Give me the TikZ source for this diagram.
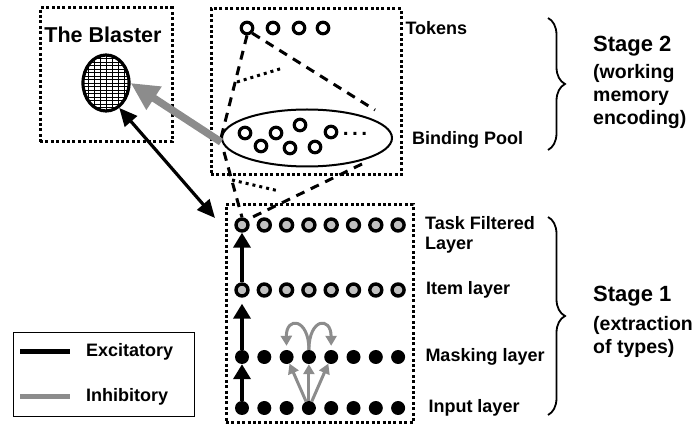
\documentclass[tikz,border=0pt]{standalone}
\usepackage{fontspec}
\setmainfont{Liberation Sans}
\usepackage{xcolor}
\definecolor{inhibGray}{HTML}{8C8C8C}
\definecolor{unitGray}{HTML}{C0C0C0}
\usetikzlibrary{positioning,calc,arrows.meta,shapes.geometric,decorations.pathreplacing}
\tikzset{%
  regionBox/.style={%
    rectangle,
    draw,
    line width=3pt,
    dash pattern=on 3pt off 2.4pt,
    inner sep=0pt
  },
  tokenUnit/.style={%
    circle,
    draw,
    line width=3.2pt,
    minimum size=11.5pt,
    inner sep=0pt
  },
  typeUnit/.style={%
    circle,
    draw,
    fill=unitGray,
    line width=3.4pt,
    minimum size=12pt,
    inner sep=0pt
  },
  inputUnit/.style={%
    circle,
    fill=black,
    minimum size=14pt,
    inner sep=0pt
  },
  layerLabel/.style={%
    font=\bfseries\fontsize{18}{20}\selectfont,
    inner sep=0pt,
    anchor=west,
    align=left
  },
  stageLabel/.style={%
    font=\bfseries\fontsize{19.5}{23}\selectfont,
    inner sep=0pt,
    anchor=north west,
    align=left
  },
  excArrow/.style={%
    -{Triangle[length=15pt,width=17pt]},
    line width=4pt
  },
  inhArrow/.style={%
    -{Triangle[length=10pt,width=11pt]},
    line width=3pt,
    color=inhibGray
  },
  coneLine/.style={%
    line width=3pt,
    dash pattern=on 9pt off 7pt
  },
  hiddenLine/.style={%
    line width=3pt,
    dash pattern=on 3pt off 4pt
  },
  stageBrace/.style={%
    decorate,
    decoration={brace,amplitude=17pt},
    line width=1.8pt
  }
}

\begin{document}
\begin{tikzpicture}[x=1pt,y=-1pt]
  \useasboundingbox (0,0) rectangle (694,427);

  % boxes
  \node[regionBox, minimum width=132pt, minimum height=134pt] (blasterBox) at (106,75) {};
  \node[regionBox, minimum width=190pt, minimum height=166pt] (poolBox) at (306,92) {};
  \node[regionBox, minimum width=187pt, minimum height=218pt] (layerBox) at (319.5,314) {};

  % the blaster
  \node[font=\bfseries\fontsize{21.5}{24}\selectfont, inner sep=0pt] (blasterText) at (103,35) {The Blaster};
  \node[ellipse, draw, line width=3.2pt, minimum width=46pt, minimum height=56pt, inner sep=0pt,
    path picture={%
      \foreach \k in {-28,-24.5,...,28}
        \draw[line width=0.7pt] ($(path picture bounding box.center)+(-30,\k)$) -- ++(60,0);
      \foreach \k in {-18,-12,...,18}
        \draw[line width=0.7pt] ($(path picture bounding box.center)+(\k,-30)$) -- ++(0,60);
    }] (blaster) at (106,83) {};

  % tokens and binding pool
  \foreach \x [count=\i] in {247,273,299,323}
    \node[tokenUnit] (tok\i) at (\x,28) {};
  \node[ellipse, draw, line width=2pt, minimum width=170pt, minimum height=57pt, inner sep=0pt] (pool) at (307,138) {};
  \foreach \x/\y [count=\i] in {245/133,261/146,276/133,300/125,290/148,315/147,331/132}
    \node[tokenUnit] (bind\i) at (\x,\y) {};
  \node[font=\bfseries\fontsize{21}{24}\selectfont, inner sep=0pt, anchor=base] (poolDots) at (355,136) {.\hspace{3.5pt}.\hspace{3.5pt}.};

  \node[layerLabel, right=75pt of tok4] (tokLabel) {Tokens};
  \node[layerLabel] (poolLabel) at (412,140) {Binding Pool};

  % cones
  \coordinate (coneTopR) at (375,110);
  \coordinate (backA) at (237,82);
  \coordinate (backB) at (283,68);
  \draw[coneLine] (tok1.south) -- (pool.west);
  \draw[coneLine] (tok1.south east) -- (coneTopR);
  \draw[hiddenLine] (backA) -- (backB);

  \coordinate (coneLowL) at (224,152);
  \coordinate (coneLowR) at (362,164);
  \coordinate (backC) at (232,180);
  \coordinate (backD) at (279,191);

  % layers
  \foreach \i in {1,...,8} {
    \node[typeUnit] (task\i) at ({242+22.3*(\i-1)},225) {};
    \node[typeUnit] (item\i) at ({242+22.3*(\i-1)},290) {};
    \node[inputUnit] (mask\i) at ({242+22.3*(\i-1)},357) {};
    \node[inputUnit] (inp\i) at ({242+22.3*(\i-1)},408) {};
  }
  \draw[coneLine] (coneLowL) -- (task1.north);
  \draw[coneLine] (coneLowR) -- ([xshift=8pt,yshift=-1pt]task1.north);
  \draw[hiddenLine] (backC) -- (backD);

  \node[layerLabel, anchor=north west] (taskLabel) at (425,216) {Task Filtered\\Layer};
  \node[layerLabel, right=20pt of item8] (itemLabel) {Item layer};
  \node[layerLabel, right=20pt of mask8] (maskLabel) {Masking layer};
  \node[layerLabel, right=23pt of inp8] (inpLabel) {Input layer};

  % excitatory
  \draw[excArrow] (item1) -- (task1);
  \draw[excArrow, shorten >=6pt] (mask1) -- (item1);
  \draw[excArrow] (inp1) -- (mask1);

  % inhibitory
  \draw[inhArrow] (inp4) -- (mask3);
  \draw[inhArrow] (inp4) -- (mask4);
  \draw[inhArrow] (inp4) -- (mask5);
  \draw[inhArrow, shorten >=4pt] (mask4.north) .. controls (309,318) and (286,316) .. (mask3.north);
  \draw[inhArrow, shorten >=4pt] (mask4.north) .. controls (309,318) and (331,316) .. (mask5.north);

  % links to the blaster
  \coordinate (blastLink) at (215,218);
  \draw[-{Triangle[length=28pt,width=26pt]}, line width=7.5pt, color=inhibGray] ([yshift=-4pt]pool.west) -- (blaster.east);
  \draw[{Triangle[length=18pt,width=16pt]}-{Triangle[length=18pt,width=16pt]}, line width=3.2pt] (blaster.-62) -- (blastLink);

  % stages
  \draw[stageBrace] (548,18) -- (548,150);
  \draw[stageBrace] (548,217) -- (548,415);
  \node[stageLabel, font=\bfseries\fontsize{22}{24}\selectfont] (stageTwo) at (593,36) {Stage 2};
  \node[stageLabel, below=8pt of stageTwo.south west, anchor=north west] (stageTwoSub) {(working\\memory\\encoding)};
  \node[stageLabel, font=\bfseries\fontsize{22}{24}\selectfont] (stageOne) at (593,286) {Stage 1};
  \node[stageLabel, below=10pt of stageOne.south west, anchor=north west] (stageOneSub) {(extraction\\of types)};

  % legend
  \node[draw, line width=1pt, minimum width=181pt, minimum height=84pt, inner sep=0pt] (legend) at (103.5,375) {};
  \coordinate (excFrom) at (20,352);
  \coordinate (excTo) at (70,352);
  \coordinate (inhFrom) at (20,397);
  \coordinate (inhTo) at (70,397);
  \draw[line width=5pt] (excFrom) -- (excTo);
  \draw[line width=5pt, color=inhibGray] (inhFrom) -- (inhTo);
  \node[layerLabel, right=16pt of excTo] (excLabel) {Excitatory};
  \node[layerLabel, right=16pt of inhTo] (inhLabel) {Inhibitory};
\end{tikzpicture}
\end{document}
